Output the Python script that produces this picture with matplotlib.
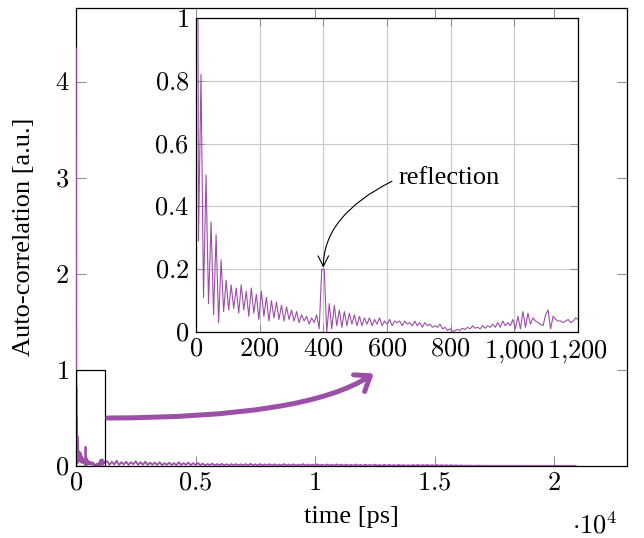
import matplotlib
matplotlib.use("Agg")
import matplotlib.pyplot as plt
import numpy as np
from matplotlib.patches import FancyArrowPatch, Rectangle

# sampled auto-correlation, first 1.2 ns at full resolution (step DT_FINE ps)
DT_FINE = 7.9
HEAD_VALUES = [
    4.35, 0.29, 0.82, 0.11, 0.50, 0.09, 0.35, 0.055, 0.31, 0.03,
    0.23, 0.065, 0.165, 0.07, 0.15, 0.075, 0.14, 0.06, 0.15, 0.07,
    0.13, 0.05, 0.14, 0.06, 0.12, 0.04, 0.13, 0.05, 0.11, 0.035,
    0.10, 0.045, 0.095, 0.04, 0.085, 0.035, 0.08, 0.04, 0.07, 0.035,
    0.065, 0.03, 0.055, 0.035, 0.05, 0.025, 0.045, 0.03, 0.055, 0.01,
    0.20, 0.20, 0.0, 0.09, 0.01, 0.085, 0.02, 0.07, 0.015, 0.065,
    0.02, 0.06, 0.025, 0.055, 0.02, 0.05, 0.02, 0.045, 0.025, 0.045,
    0.02, 0.04, 0.025, 0.045, 0.02, 0.035, 0.025, 0.04, 0.02, 0.035,
    0.03, 0.035, 0.02, 0.035, 0.025, 0.03, 0.02, 0.035, 0.02, 0.03,
    0.015, 0.03, 0.02, 0.025, 0.015, 0.02, 0.015, 0.025, 0.01, 0.015,
    0.005, 0.01, 0.002, 0.005, 0.008, 0.005, 0.012, 0.008, 0.015, 0.01,
    0.02, 0.012, 0.015, 0.01, 0.02, 0.012, 0.02, 0.015, 0.025, 0.015,
    0.03, 0.015, 0.035, 0.02, 0.03, 0.02, 0.04, 0.01, 0.05, 0.01,
    0.065, 0.015, 0.06, 0.025, 0.045, 0.035, 0.03, 0.025, 0.02, 0.055,
    0.07, 0.01, 0.05, 0.04, 0.035, 0.035, 0.03, 0.035, 0.04, 0.03,
    0.035, 0.045, 0.04,
]

# remaining record, coarser (step DT_TAIL ps starting at TAIL_START)
TAIL_START = 1300
DT_TAIL = 100
TAIL_VALUES = [
    0.05, 0.012, 0.045, 0.015, 0.055, 0.01, 0.04, 0.015, 0.045, 0.01,
    0.04, 0.018, 0.05, 0.01, 0.04, 0.012, 0.045, 0.01, 0.035, 0.014,
    0.035, 0.01, 0.04, 0.008, 0.03, 0.012, 0.035, 0.01, 0.03, 0.008,
    0.04, 0.01, 0.03, 0.012, 0.035, 0.008, 0.03, 0.01, 0.032, 0.008,
    0.025, 0.006, 0.02, 0.01, 0.025, 0.005, 0.02, 0.008, 0.022, 0.006,
    0.018, 0.005, 0.02, 0.008, 0.02, 0.005, 0.018, 0.006, 0.02, 0.005,
    0.022, 0.006, 0.018, 0.005, 0.02, 0.007, 0.017, 0.005, 0.019, 0.006,
    0.018, 0.005, 0.015, 0.004, 0.02, 0.005, 0.015, 0.006, 0.018, 0.004,
    0.015, 0.005, 0.02, 0.004, 0.016, 0.005, 0.015, 0.004, 0.018, 0.005,
    0.014, 0.004, 0.016, 0.005, 0.015, 0.004, 0.017, 0.005, 0.015, 0.004,
    0.015, 0.004, 0.012, 0.003, 0.016, 0.004, 0.012, 0.003, 0.014, 0.004,
    0.012, 0.003, 0.015, 0.004, 0.011, 0.003, 0.013, 0.003, 0.012, 0.004,
    0.01, 0.003, 0.012, 0.003, 0.01, 0.003, 0.008, 0.003, 0.011, 0.003,
    0.012, 0.003, 0.01, 0.004, 0.011, 0.003, 0.009, 0.003, 0.01, 0.003,
    0.009, 0.003, 0.008, 0.003, 0.009, 0.002, 0.007, 0.003, 0.006, 0.003,
    0.004, 0.003, 0.004, 0.002, 0.003, 0.003, 0.004, 0.002, 0.003, 0.003,
    0.002, 0.003, 0.003, 0.002, 0.003, 0.002, 0.003, 0.002, 0.002, 0.003,
    0.002, 0.002, 0.003, 0.002, 0.002, 0.002, 0.003, 0.002, 0.002, 0.002,
    0.002, 0.002, 0.002, 0.002, 0.002, 0.002, 0.002, 0.002, 0.002, 0.002,
    0.002, 0.002, 0.002, 0.002, 0.002, 0.002, 0.002,
]

MAIN_XTICKS = [0, 5000, 10000, 15000, 20000]
MAIN_XLABELS = ["0", "0.5", "1", "1.5", "2"]
MAIN_YTICKS = [0, 1, 2, 3, 4]
INSET_XTICKS = [0, 200, 400, 600, 800, 1000, 1200]
INSET_XLABELS = ["0", "200", "400", "600", "800", "1{,}000", "1{,}200"]
INSET_YTICKS = [0, 0.2, 0.4, 0.6, 0.8, 1.0]
INSET_YLABELS = ["0", "0.2", "0.4", "0.6", "0.8", "1"]
REFLECTION = (400, 0.205)

PURPLE = "#9c4fa7"
TICK_GRAY = "#8a8a8a"

plt.rcParams.update({
    "font.family": "serif",
    "font.serif": ["Liberation Serif", "DejaVu Serif"],
    "mathtext.fontset": "cm",
    "font.size": 19,
})

t_head = DT_FINE * np.arange(len(HEAD_VALUES))
t_tail = TAIL_START + DT_TAIL * np.arange(len(TAIL_VALUES))
t_all = np.concatenate([t_head, t_tail])
v_all = np.concatenate([HEAD_VALUES, TAIL_VALUES])

fig = plt.figure(figsize=(6.44, 5.38), dpi=100)
ax = fig.add_axes([0.118, 0.1338, 0.8556, 0.8512])
ax.plot(t_all, v_all, color=PURPLE, lw=1.3, zorder=3)
ax.set_xlim(0, 23050)
ax.set_ylim(0, 4.77)
ax.set_xticks(MAIN_XTICKS)
ax.set_xticklabels([f"${s}$" for s in MAIN_XLABELS])
ax.set_yticks(MAIN_YTICKS)
ax.set_yticklabels([f"${v}$" for v in MAIN_YTICKS])
ax.tick_params(direction="in", top=True, right=True, length=7, width=0.7,
               color=TICK_GRAY, pad=5)
for sp in ax.spines.values():
    sp.set_linewidth(0.9)
ax.set_xlabel("time [ps]", labelpad=8)
ax.set_ylabel("Auto-correlation [a.u.]", labelpad=14)
fig.text(595 / 644, 1 - 525 / 538, r"$\cdot 10^4$", ha="center", va="center")

# zoom box and the big arrow towards the inset
ax.add_patch(Rectangle((0, 0), 1200, 1, fill=False, ec="black", lw=0.9, zorder=3))
arrow = FancyArrowPatch((1213, 0.5), (12550, 0.98),
                        connectionstyle="angle3,angleA=0,angleB=35",
                        arrowstyle="->,head_length=0.6,head_width=0.45",
                        mutation_scale=16, color=PURPLE, lw=3.6,
                        clip_on=False, zorder=4)
ax.add_patch(arrow)

ins = fig.add_axes([0.3043, 0.3829, 0.5932, 0.5836])
ins.plot(t_head, HEAD_VALUES, color=PURPLE, lw=0.8)
ins.set_xlim(0, 1200)
ins.set_ylim(0, 1)
ins.set_xticks(INSET_XTICKS)
ins.set_xticklabels([f"${s}$" for s in INSET_XLABELS])
ins.set_yticks(INSET_YTICKS)
ins.set_yticklabels([f"${s}$" for s in INSET_YLABELS])
ins.tick_params(direction="in", top=True, right=True, length=6, width=0.7,
                color=TICK_GRAY, pad=5)
ins.grid(True, color="#c8c8c8", lw=0.8)
ins.set_axisbelow(True)
for sp in ins.spines.values():
    sp.set_linewidth(0.9)

ins.annotate("reflection", xy=REFLECTION, xytext=(636, 0.49),
             ha="left", va="center",
             arrowprops=dict(arrowstyle="->", color="black", lw=0.8,
                             connectionstyle="angle3,angleA=25,angleB=90",
                             relpos=(0, 0.5), shrinkA=3, shrinkB=0))

fig.savefig("out.png", dpi=100)
